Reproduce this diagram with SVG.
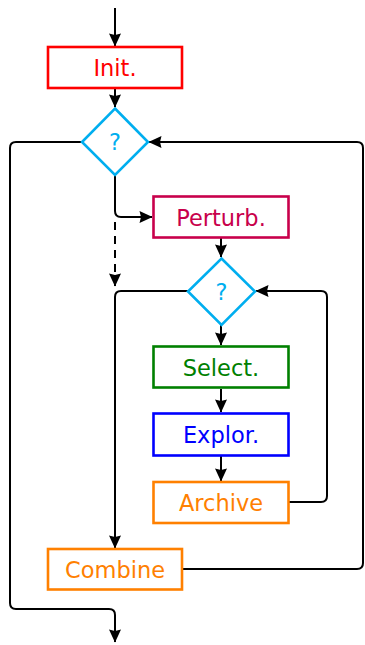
<svg xmlns="http://www.w3.org/2000/svg" width="365" height="645" viewBox="0 0 365 645">
  <defs>
    <marker id="arr" markerUnits="userSpaceOnUse" viewBox="-14 -7 15 14" refX="0" refY="0" markerWidth="15" markerHeight="14" orient="auto">
      <path d="M0.5,0 L-12.5,-6 L-11,0 L-12.5,6 Z" fill="#000"/>
    </marker>
  </defs>
  <style>
    .box { fill: #fff; stroke-width: 2.6; }
    .lbl { font-family: "DejaVu Sans", "Liberation Sans", sans-serif; font-size: 22.5px; text-anchor: middle; }
    .edge { fill: none; stroke: #000; stroke-width: 2; }
    .arrow { marker-end: url(#arr); }
    .dash { stroke-dasharray: 8 6; }
  </style>

  <!-- connectors -->
  <g id="connectors">
    <path class="edge arrow" d="M115,8 V46"/>
    <path class="edge arrow" d="M115,89 V107"/>
    <path class="edge arrow" d="M115,175 V211 Q115,217 121,217 H152"/>
    <path class="edge dash arrow" d="M115,222 V286"/>
    <path class="edge arrow" d="M221,238 V257"/>
    <path class="edge arrow" d="M188,291 H121 Q115,291 115,297 V548"/>
    <path class="edge arrow" d="M221,325 V345"/>
    <path class="edge arrow" d="M221,389 V412"/>
    <path class="edge arrow" d="M221,456 V481"/>
    <path class="edge arrow" d="M289,502 H321 Q327,502 327,496 V297 Q327,291 321,291 H256"/>
    <path class="edge arrow" d="M183,569 H357 Q363,569 363,563 V148 Q363,142 357,142 H149"/>
    <path class="edge arrow" d="M82,142 H16 Q10,142 10,148 V603 Q10,609 16,609 H109 Q115,609 115,615 V642"/>
  </g>

  <g id="init">
    <rect class="box" x="48" y="47" width="134" height="41" stroke="#ff0000"/>
    <text class="lbl" x="115" y="76" fill="#ff0000">Init.</text>
  </g>

  <g id="test-outer">
    <polygon class="box" points="115,108.5 148,142 115,175 82,142" stroke="#00aeef"/>
    <text class="lbl" x="115" y="150" fill="#00aeef">?</text>
  </g>

  <g id="perturb">
    <rect class="box" x="153.5" y="196.5" width="135" height="41" stroke="#c8004b"/>
    <text class="lbl" x="221" y="225.5" fill="#c8004b">Perturb.</text>
  </g>

  <g id="test-inner">
    <polygon class="box" points="221.5,258.5 255,291.5 221.5,325 188,291.5" stroke="#00aeef"/>
    <text class="lbl" x="221.5" y="299.5" fill="#00aeef">?</text>
  </g>

  <g id="select">
    <rect class="box" x="153.5" y="346.5" width="135" height="41" stroke="#008000"/>
    <text class="lbl" x="221" y="375.5" fill="#008000">Select.</text>
  </g>

  <g id="explor">
    <rect class="box" x="153.5" y="413.5" width="135" height="42" stroke="#0000ff"/>
    <text class="lbl" x="221" y="442.5" fill="#0000ff">Explor.</text>
  </g>

  <g id="archive">
    <rect class="box" x="153.5" y="482" width="135" height="41" stroke="#ff8000"/>
    <text class="lbl" x="221" y="510.5" fill="#ff8000">Archive</text>
  </g>

  <g id="combine">
    <rect class="box" x="48" y="549" width="134" height="40.5" stroke="#ff8000"/>
    <text class="lbl" x="115" y="577.5" fill="#ff8000">Combine</text>
  </g>
</svg>
